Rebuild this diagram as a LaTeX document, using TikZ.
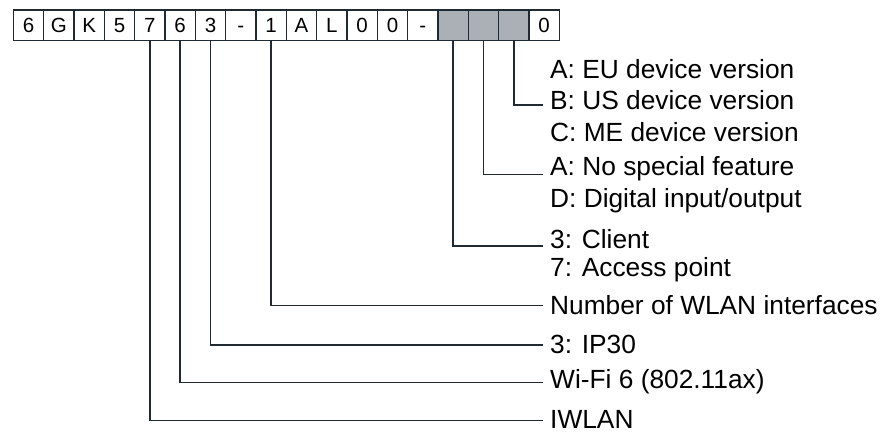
\documentclass[tikz,border=0pt]{standalone}
\usepackage{fontspec}
\setmainfont{Liberation Sans}
\definecolor{ln}{HTML}{1F2A33}
\definecolor{gbox}{HTML}{AAB0B5}
\begin{document}
\begin{tikzpicture}[x=1pt,y=-1pt,
  cell/.style={draw=ln,line width=1.3pt,minimum width=30.33pt,minimum height=30.5pt,inner sep=0pt,text height=14.5pt,text depth=0pt,anchor=north west,font=\fontsize{20.5}{24}\selectfont},
  gcell/.style={cell,fill=gbox},
  lbl/.style={anchor=west,inner sep=0pt,font=\fontsize{26.3}{30}\selectfont},
  conn/.style={draw=ln,line width=1.5pt}]
\useasboundingbox (0,0) rectangle (887,433);
% code boxes
\foreach \t [count=\i from 0] in {6,G,K,5,7,6,3,-,1,A,L,0,0,-}{
  \node[cell] (b\i) at ({12.7+30.33*\i},9.4) {\t};
}
\node[gcell] (b14) at ({12.7+30.33*14},9.4) {};
\node[gcell] (b15) at ({12.7+30.33*15},9.4) {};
\node[gcell] (b16) at ({12.7+30.33*16},9.4) {};
\node[cell] (b17) at ({12.7+30.33*17},9.4) {0};
% labels
\node[lbl] (tA1) at (550,69) {A: EU device version};
\node[lbl] (tB1) at (550,100.5) {B: US device version};
\node[lbl] (tC1) at (550,132) {C: ME device version};
\node[lbl] (tA2) at (550,169) {A: No special feature};
\node[lbl] (tD2) at (550,200.5) {D: Digital input/output};
\node[lbl] (t3c) at (550,239.5) {3: Client};
\node[lbl] (t7a) at (550,269.5) {7: Access point};
\node[lbl] (tnum) at (550,305) {Number of WLAN interfaces};
\node[lbl] (tip) at (550,344.5) {3: IP30};
\node[lbl] (twifi) at (550,381.5) {Wi-Fi 6 (802.11ax)};
\node[lbl] (tiw) at (550,419.5) {IWLAN};
% connector ends
\coordinate (eB) at (543,105.1);
\coordinate (eA) at (543,174.6);
\coordinate (eC) at (543,246);
\coordinate (eN) at (543,305.6);
\coordinate (eI) at (543,345.2);
\coordinate (eW) at (543,382.5);
\coordinate (eL) at (543,420.5);
% connectors
\draw[conn] (b16.south) |- (eB);
\draw[conn] (b15.south) |- (eA);
\draw[conn] (b14.south) |- (eC);
\draw[conn] (b8.south) |- (eN);
\draw[conn] (b6.south) |- (eI);
\draw[conn] (b5.south) |- (eW);
\draw[conn] (b4.south) |- (eL);
\end{tikzpicture}
\end{document}
